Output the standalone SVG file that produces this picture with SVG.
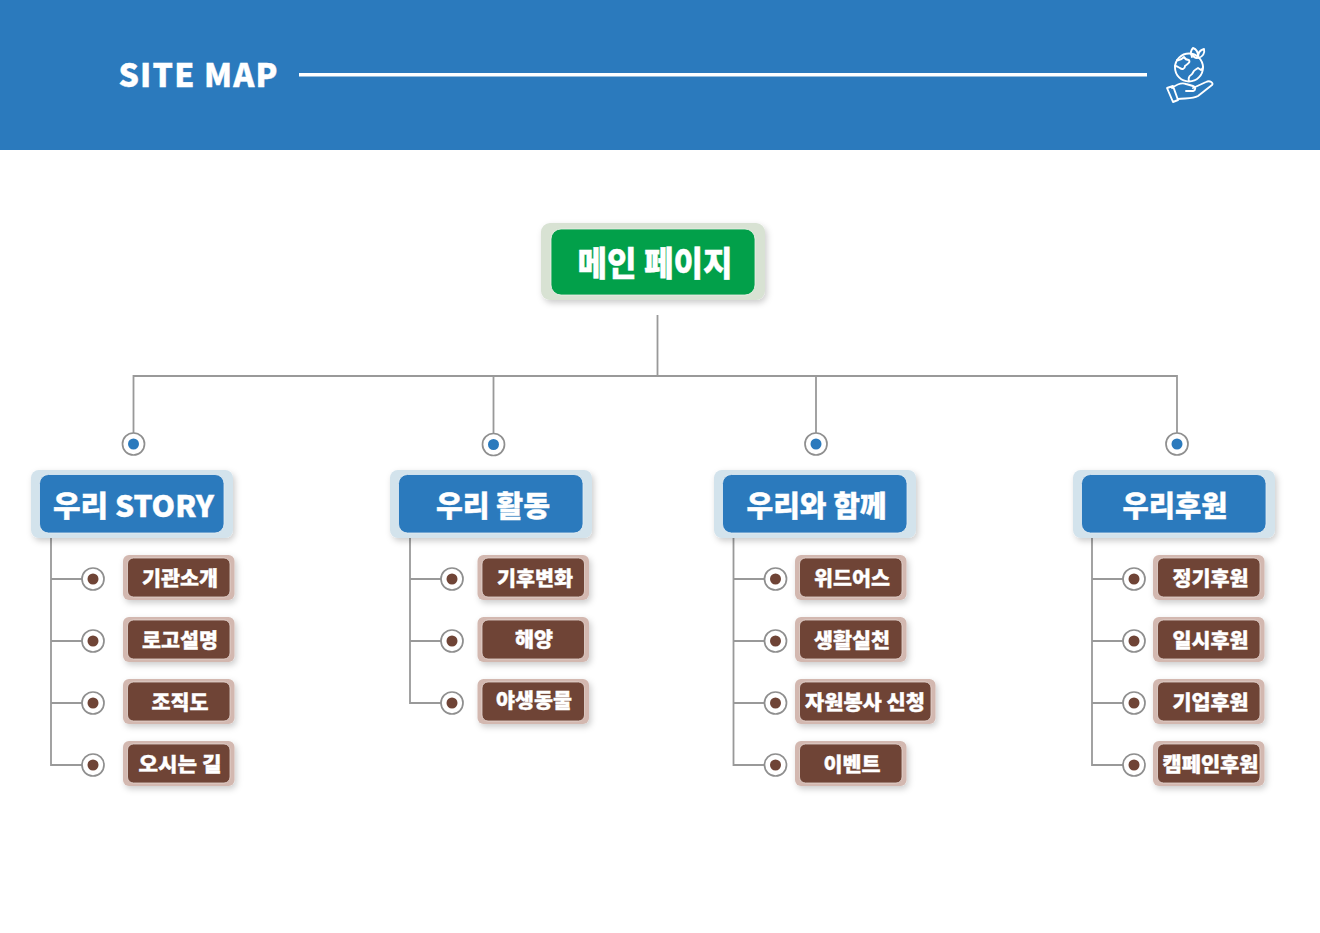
<svg xmlns="http://www.w3.org/2000/svg" width="1320" height="933" viewBox="0 0 1320 933">
<defs>
<filter id="sh" x="-15%" y="-20%" width="130%" height="145%"><feDropShadow dx="2" dy="3" stdDeviation="3" flood-color="#000" flood-opacity="0.2"/></filter>
</defs>
<style>
text{font-family:"Noto Sans CJK KR","Noto Sans",sans-serif;font-weight:900;fill:#fff;stroke:#fff;stroke-width:.35;text-anchor:middle}
.ln{fill:none;stroke:#999;stroke-width:1.8}
.ring{fill:#fff;stroke:#8f8f8f;stroke-width:1.7}
.b{fill:#2b7abd}.br{fill:#6f4436}
.co{fill:#d3e3ec;filter:url(#sh)}.ci{fill:#2b7abd;stroke:#e4eef4;stroke-width:.8}
.so{fill:#d3b8b0;filter:url(#sh)}.si{fill:#6f4436;stroke:#e6d8d3;stroke-width:.8}
.cat{font-size:29px}.sub{font-size:20px}
.ic{fill:none;stroke:#fff;stroke-width:1.9;stroke-linejoin:round;stroke-linecap:round}
</style>
<rect id="header" x="0" y="0" width="1320" height="150" fill="#2b7abd"/>
<g id="title"><text x="198" y="87" font-size="32" textLength="159" lengthAdjust="spacing">SITE MAP</text></g>
<rect id="title-rule" x="299" y="73" width="848" height="3.500" fill="#fff"/>
<g id="icon" class="ic">
<circle cx="1189" cy="67.500" r="14"/>
<path d="M1177 60c3 1 5-1 7-3 1 2 3 3 5 3 2 3-2 4-4 6 0 3-3 4-5 2-2-1-3-2-5-2M1189 81c-1-2 0-5 2-6 2-1 2-4 4-5l3-2 3 2c1-1 2-2 2-3M1192 54c1 2 3 4 5 4"/>
<path d="M1192 57c-2-4-1-7 1-9 3 1 5 4 5 8M1198 57c0-4 2-7 6-8 1 4-1 8-6 9"/>
<path d="M1167 88l6-2 5 14-5 2zM1172 88c4-3 9-6 14-4l7 2c3 1 3 4 0 5h-7M1193 88l13-6c4-2 8 1 6 3l-14 11c-5 3-13 2-20 3"/>
</g>
<g id="connectors" class="ln">
<path d="M657.500 315V376M133.500 433V376H1177V433M493.500 376V433M816 376V433"/>
<path d="M51 536V765H82M51 579H82M51 641H82M51 703H82"/>
<path d="M410 536V703H441M410 579H441M410 641H441"/>
<path d="M733.500 536V765H764M733.500 579H764M733.500 641H764M733.500 703H764"/>
<path d="M1092 536V765H1123M1092 579H1123M1092 641H1123M1092 703H1123"/>
</g>
<g id="main"><rect x="541" y="223" width="224" height="77" rx="9" fill="#d8e2d3" filter="url(#sh)"/><rect x="551" y="229" width="204" height="66" rx="10" fill="#02a04a" stroke="#eef3e8" stroke-width=".8"/><text x="655" y="276" font-size="34" textLength="155" lengthAdjust="spacingAndGlyphs">메인 페이지</text></g>
<g id="dot-1"><circle class="ring" cx="133.500" cy="444" r="11"/><circle class="b" cx="133.500" cy="444" r="5.500"/></g>
<g id="dot-2"><circle class="ring" cx="493.500" cy="444.500" r="11"/><circle class="b" cx="493.500" cy="444.500" r="5.500"/></g>
<g id="dot-3"><circle class="ring" cx="816" cy="444" r="11"/><circle class="b" cx="816" cy="444" r="5.500"/></g>
<g id="dot-4"><circle class="ring" cx="1177" cy="444" r="11"/><circle class="b" cx="1177" cy="444" r="5.500"/></g>

<g id="cat-1"><rect class="co" x="31" y="470" width="202" height="68" rx="8"/><rect class="ci" x="39.500" y="474.500" width="184.500" height="58.500" rx="9"/><text class="cat" x="133.500" y="517" textLength="161" lengthAdjust="spacingAndGlyphs">우리 STORY</text></g>
<g id="cat-2"><rect class="co" x="390" y="470" width="202" height="68" rx="8"/><rect class="ci" x="398.500" y="474.500" width="184.500" height="58.500" rx="9"/><text class="cat" x="493" y="517" textLength="114" lengthAdjust="spacingAndGlyphs">우리 활동</text></g>
<g id="cat-3"><rect class="co" x="714" y="470" width="202" height="68" rx="8"/><rect class="ci" x="722.500" y="474.500" width="184.500" height="58.500" rx="9"/><text class="cat" x="816.500" y="517" textLength="140" lengthAdjust="spacingAndGlyphs">우리와 함께</text></g>
<g id="cat-4"><rect class="co" x="1073" y="470" width="202" height="68" rx="8"/><rect class="ci" x="1081.500" y="474.500" width="184.500" height="58.500" rx="9"/><text class="cat" x="1175" y="517" textLength="105" lengthAdjust="spacingAndGlyphs">우리후원</text></g>

<g id="d1-1"><circle class="ring" cx="93" cy="579" r="11"/><circle class="br" cx="93" cy="579" r="5.500"/></g>
<g id="s1-1"><rect class="so" x="123" y="555" width="111.500" height="45" rx="6"/><rect class="si" x="127.500" y="558" width="102.500" height="39" rx="6"/><text class="sub" x="180" y="586" textLength="76" lengthAdjust="spacingAndGlyphs">기관소개</text></g>
<g id="d1-2"><circle class="ring" cx="93" cy="641" r="11"/><circle class="br" cx="93" cy="641" r="5.500"/></g>
<g id="s1-2"><rect class="so" x="123" y="617" width="111.500" height="45" rx="6"/><rect class="si" x="127.500" y="620" width="102.500" height="39" rx="6"/><text class="sub" x="180" y="648" textLength="76" lengthAdjust="spacingAndGlyphs">로고설명</text></g>
<g id="d1-3"><circle class="ring" cx="93" cy="703" r="11"/><circle class="br" cx="93" cy="703" r="5.500"/></g>
<g id="s1-3"><rect class="so" x="123" y="679" width="111.500" height="45" rx="6"/><rect class="si" x="127.500" y="682" width="102.500" height="39" rx="6"/><text class="sub" x="180" y="710" textLength="57" lengthAdjust="spacingAndGlyphs">조직도</text></g>
<g id="d1-4"><circle class="ring" cx="93" cy="765" r="11"/><circle class="br" cx="93" cy="765" r="5.500"/></g>
<g id="s1-4"><rect class="so" x="123" y="741" width="111.500" height="45" rx="6"/><rect class="si" x="127.500" y="744" width="102.500" height="39" rx="6"/><text class="sub" x="180" y="772" textLength="83" lengthAdjust="spacingAndGlyphs">오시는 길</text></g>

<g id="d2-1"><circle class="ring" cx="452" cy="579" r="11"/><circle class="br" cx="452" cy="579" r="5.500"/></g>
<g id="s2-1"><rect class="so" x="477.500" y="555" width="111.500" height="45" rx="6"/><rect class="si" x="482" y="558" width="102.500" height="39" rx="6"/><text class="sub" x="535" y="586" textLength="76" lengthAdjust="spacingAndGlyphs">기후변화</text></g>
<g id="d2-2"><circle class="ring" cx="452" cy="641" r="11"/><circle class="br" cx="452" cy="641" r="5.500"/></g>
<g id="s2-2"><rect class="so" x="477.500" y="617" width="111.500" height="45" rx="6"/><rect class="si" x="482" y="620" width="102.500" height="39" rx="6"/><text class="sub" x="534" y="647" textLength="38" lengthAdjust="spacingAndGlyphs">해양</text></g>
<g id="d2-3"><circle class="ring" cx="452" cy="703" r="11"/><circle class="br" cx="452" cy="703" r="5.500"/></g>
<g id="s2-3"><rect class="so" x="477.500" y="679" width="111.500" height="45" rx="6"/><rect class="si" x="482" y="682" width="102.500" height="39" rx="6"/><text class="sub" x="534" y="708" textLength="76" lengthAdjust="spacingAndGlyphs">야생동물</text></g>

<g id="d3-1"><circle class="ring" cx="775.500" cy="579" r="11"/><circle class="br" cx="775.500" cy="579" r="5.500"/></g>
<g id="s3-1"><rect class="so" x="795" y="555" width="111.500" height="45" rx="6"/><rect class="si" x="799.500" y="558" width="102.500" height="39" rx="6"/><text class="sub" x="852" y="586" textLength="76" lengthAdjust="spacingAndGlyphs">위드어스</text></g>
<g id="d3-2"><circle class="ring" cx="775.500" cy="641" r="11"/><circle class="br" cx="775.500" cy="641" r="5.500"/></g>
<g id="s3-2"><rect class="so" x="795" y="617" width="111.500" height="45" rx="6"/><rect class="si" x="799.500" y="620" width="102.500" height="39" rx="6"/><text class="sub" x="852" y="648" textLength="76" lengthAdjust="spacingAndGlyphs">생활실천</text></g>
<g id="d3-3"><circle class="ring" cx="775.500" cy="703" r="11"/><circle class="br" cx="775.500" cy="703" r="5.500"/></g>
<g id="s3-3"><rect class="so" x="795" y="679" width="140.500" height="45" rx="6"/><rect class="si" x="799.500" y="682" width="131.500" height="39" rx="6"/><text class="sub" x="865" y="710" textLength="120" lengthAdjust="spacingAndGlyphs">자원봉사 신청</text></g>
<g id="d3-4"><circle class="ring" cx="775.500" cy="765" r="11"/><circle class="br" cx="775.500" cy="765" r="5.500"/></g>
<g id="s3-4"><rect class="so" x="795" y="741" width="111.500" height="45" rx="6"/><rect class="si" x="799.500" y="744" width="102.500" height="39" rx="6"/><text class="sub" x="852" y="772" textLength="57" lengthAdjust="spacingAndGlyphs">이벤트</text></g>

<g id="d4-1"><circle class="ring" cx="1134" cy="579" r="11"/><circle class="br" cx="1134" cy="579" r="5.500"/></g>
<g id="s4-1"><rect class="so" x="1153" y="555" width="111.500" height="45" rx="6"/><rect class="si" x="1157.500" y="558" width="102.500" height="39" rx="6"/><text class="sub" x="1210.500" y="586" textLength="76" lengthAdjust="spacingAndGlyphs">정기후원</text></g>
<g id="d4-2"><circle class="ring" cx="1134" cy="641" r="11"/><circle class="br" cx="1134" cy="641" r="5.500"/></g>
<g id="s4-2"><rect class="so" x="1153" y="617" width="111.500" height="45" rx="6"/><rect class="si" x="1157.500" y="620" width="102.500" height="39" rx="6"/><text class="sub" x="1210.500" y="648" textLength="76" lengthAdjust="spacingAndGlyphs">일시후원</text></g>
<g id="d4-3"><circle class="ring" cx="1134" cy="703" r="11"/><circle class="br" cx="1134" cy="703" r="5.500"/></g>
<g id="s4-3"><rect class="so" x="1153" y="679" width="111.500" height="45" rx="6"/><rect class="si" x="1157.500" y="682" width="102.500" height="39" rx="6"/><text class="sub" x="1210.500" y="710" textLength="76" lengthAdjust="spacingAndGlyphs">기업후원</text></g>
<g id="d4-4"><circle class="ring" cx="1134" cy="765" r="11"/><circle class="br" cx="1134" cy="765" r="5.500"/></g>
<g id="s4-4"><rect class="so" x="1153" y="741" width="111.500" height="45" rx="6"/><rect class="si" x="1157.500" y="744" width="102.500" height="39" rx="6"/><text class="sub" x="1210.500" y="772" textLength="96" lengthAdjust="spacingAndGlyphs">캠페인후원</text></g>
</svg>
